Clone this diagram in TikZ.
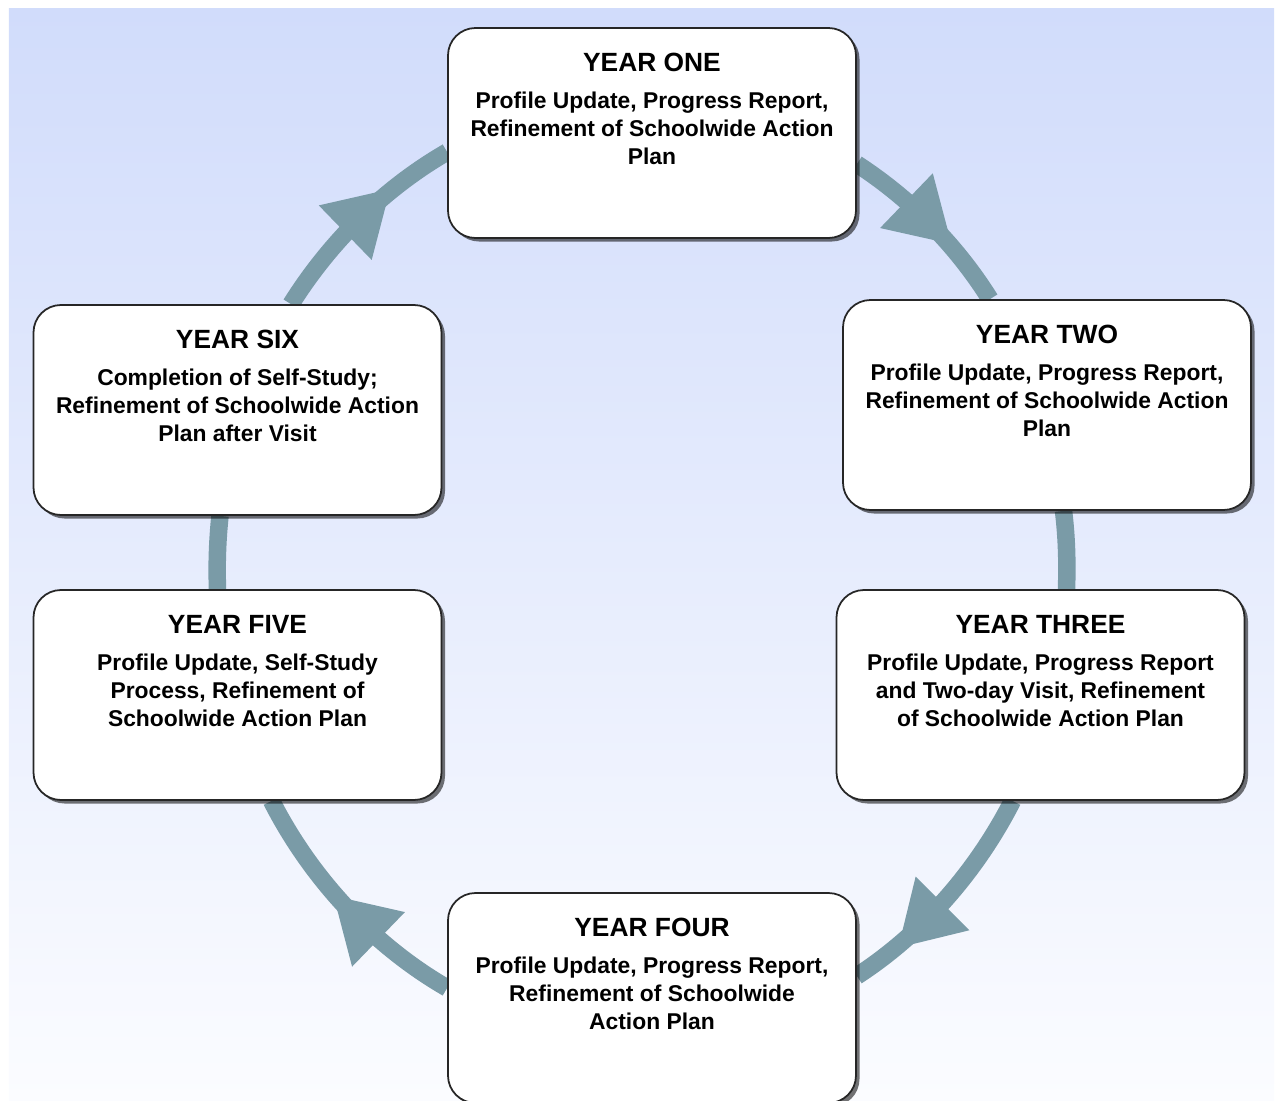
\documentclass[tikz,border=0pt]{standalone}
\usepackage{fontspec}
\setmainfont{Liberation Sans}
\usetikzlibrary{shadows,backgrounds,decorations.markings}

\definecolor{ringcol}{RGB}{122,155,167}
\definecolor{bgtop}{RGB}{209,220,251}
\definecolor{bgbot}{RGB}{251,252,255}

% title and text of one year, set at the top of the box
\newcommand{\yeartext}[2]{\parbox[t][4.2cm][t]{8.16cm}{\centering
  {\fontsize{15}{18}\selectfont\rule{0pt}{0.86cm}#1\par}
  \vspace{5.7pt}
  {\fontsize{13}{15.9}\selectfont #2\par}}}

\begin{document}
\begin{tikzpicture}
  [yearbox/.style={draw=black!85,line width=1pt,fill=white,rounded corners=0.55cm,
     inner sep=0pt,font=\bfseries,
     drop shadow={shadow xshift=0.07cm,shadow yshift=-0.07cm,fill=black,opacity=0.55}},
   cycleline/.style={color=ringcol,line width=0.35cm,looseness=0.86},
   midhead/.style={postaction={decorate},decoration={markings,
     mark=at position #1 with {\fill[ringcol] (0.8,0) -- (-0.45,0.76) -- (-0.45,-0.76) -- cycle;}}}]
  \useasboundingbox (0,0) rectangle (25.56,-22.02);

  \node[yearbox] (one)   at (13.04,-2.66)  {\yeartext{YEAR ONE}{Profile Update, Progress Report,\\Refinement of Schoolwide Action\\Plan}};
  \node[yearbox] (two)   at (20.94,-8.10)  {\yeartext{YEAR TWO}{Profile Update, Progress Report,\\Refinement of Schoolwide Action\\Plan}};
  \node[yearbox] (three) at (20.81,-13.90) {\yeartext{YEAR THREE}{Profile Update, Progress Report\\and Two-day Visit, Refinement\\of Schoolwide Action Plan}};
  \node[yearbox] (four)  at (13.04,-19.96) {\yeartext{YEAR FOUR}{Profile Update, Progress Report,\\Refinement of Schoolwide\\Action Plan}};
  \node[yearbox] (five)  at (4.75,-13.90)  {\yeartext{YEAR FIVE}{Profile Update, Self-Study\\Process, Refinement of\\Schoolwide Action Plan}};
  \node[yearbox] (six)   at (4.75,-8.20)   {\yeartext{YEAR SIX}{Completion of Self-Study;\\Refinement of Schoolwide Action\\Plan after Visit}};

  \begin{scope}[on background layer]
    \fill[top color=bgtop,bottom color=bgbot] (0.18,-0.17) rectangle (25.48,-22.02);
    \draw[cycleline,midhead=0.44] ([yshift=-0.62cm]one.east)  to[out=-33,in=122] ([xshift=-1.14cm]two.north);
    \draw[cycleline]              ([xshift=0.33cm]two.south)  to[out=-83,in=88]  ([xshift=0.52cm]three.north);
    \draw[cycleline,midhead=0.62] ([xshift=-0.56cm]three.south) to[out=-117,in=33] ([yshift=0.44cm]four.east);
    \draw[cycleline,midhead=0.41] ([yshift=0.2cm]four.west)   to[out=150,in=-63] ([xshift=0.68cm]five.south);
    \draw[cycleline]              ([xshift=-0.4cm]five.north) to[out=92,in=-96]  ([xshift=-0.35cm]six.south);
    \draw[cycleline,midhead=0.51] ([xshift=1.07cm]six.north)  to[out=58,in=-150] ([yshift=-0.38cm]one.west);
  \end{scope}
\end{tikzpicture}
\end{document}
